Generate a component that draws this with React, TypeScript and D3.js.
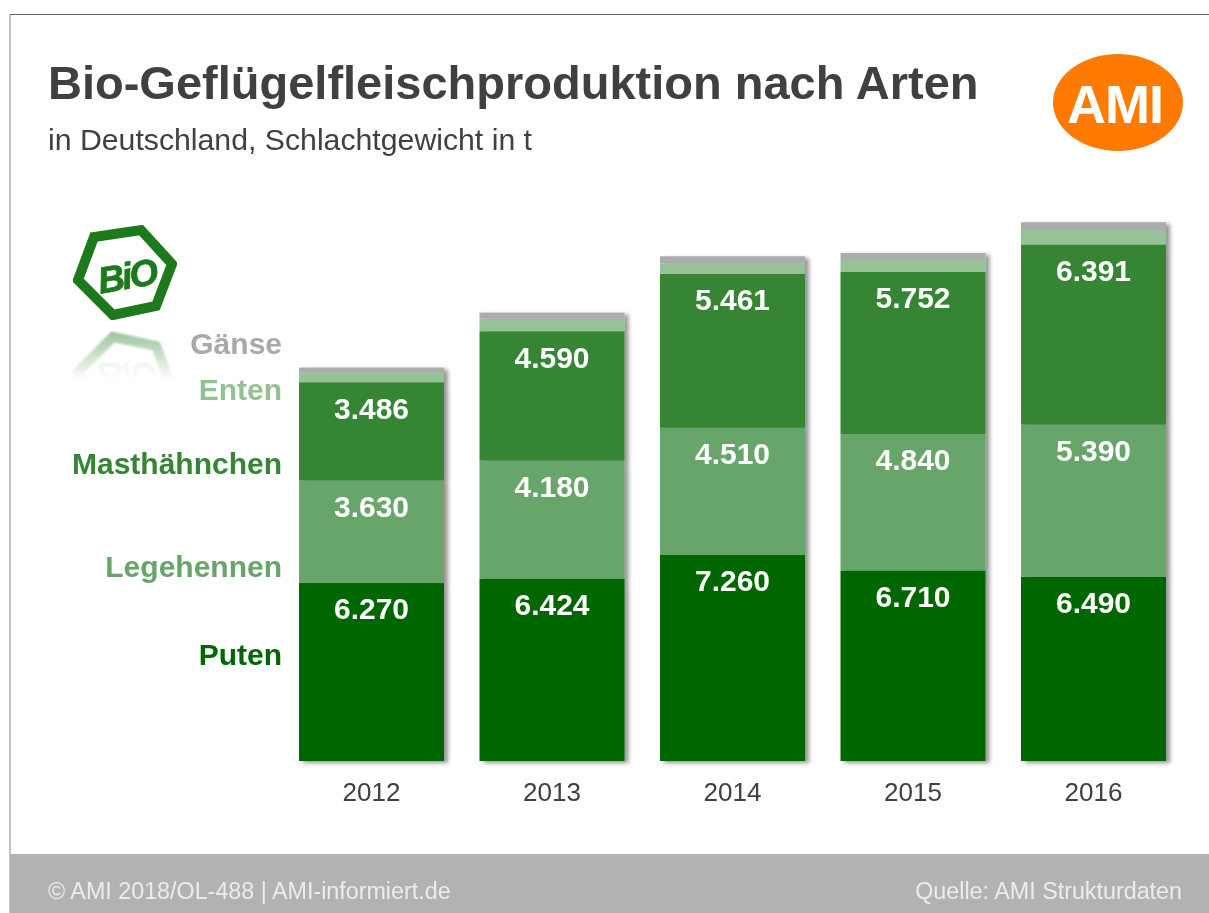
import React from "react";
import * as d3 from "d3";

const years = ["2012", "2013", "2014", "2015", "2016"];
const puten = [6270, 6424, 7260, 6710, 6490];
const legehennen = [3630, 4180, 4510, 4840, 5390];
const masthaehnchen = [3486, 4590, 5461, 5752, 6391];
const enten = [350, 450, 370, 420, 510];
const gaense = [170, 210, 250, 250, 280];

const seriesKeys = ["Puten", "Legehennen", "Masthähnchen", "Enten", "Gänse"];
const seriesValues = [puten, legehennen, masthaehnchen, enten, gaense];
const seriesColors = ["#006600", "#68a56a", "#368536", "#97c297", "#acacac"];
const labelColors = ["#006600", "#68a56a", "#358535", "#93c193", "#a9a9a9"];
const labelBaselines = [665, 577, 474, 400, 354];
const labeledSeries = 3;

const FONT = "'Liberation Sans', Arial, sans-serif";
const W = 1209;
const H = 913;
const BASE = 761;

const x = d3.scaleBand<string>().domain(years).range([299, 1166]).paddingInner(0.1967).paddingOuter(0);
const y = d3.scaleLinear().domain([0, 20000]).range([759.7, 759.7 - 564]);

const fmt = (v: number) => d3.format(",")(v).replace(",", ".");

const hexOuter: [number, number][] = [
  [141, 230], [172, 264], [156, 306], [113, 315], [78, 280], [94, 237],
];
const hexLine = d3.line().curve(d3.curveLinearClosed);
const hexPath = hexLine(hexOuter) as string;

export default function App() {
  return (
    <svg width={W} height={H} viewBox={`0 0 ${W} ${H}`} style={{ position: "absolute", left: 0, top: 0, background: "#fff" }} fontFamily={FONT}>
      <defs>
        <filter id="barShadow" x="-10%" y="-5%" width="125%" height="110%">
          <feGaussianBlur in="SourceAlpha" stdDeviation="2" />
          <feOffset dx="4" dy="2" />
          <feComponentTransfer><feFuncA type="linear" slope="0.42" /></feComponentTransfer>
          <feMerge><feMergeNode /><feMergeNode in="SourceGraphic" /></feMerge>
        </filter>
        <filter id="soft" x="-5%" y="-5%" width="110%" height="110%">
          <feGaussianBlur stdDeviation="0.45" />
        </filter>
        <filter id="softer" x="-10%" y="-10%" width="120%" height="120%">
          <feGaussianBlur stdDeviation="1.2" />
        </filter>
        <linearGradient id="fade" x1="0" y1="0" x2="0" y2="1">
          <stop offset="0" stopColor="#fff" stopOpacity="0.5" />
          <stop offset="1" stopColor="#fff" stopOpacity="0" />
        </linearGradient>
        <mask id="reflMask" maskUnits="userSpaceOnUse" x="60" y="326" width="130" height="60">
          <rect x="60" y="326" width="130" height="54" fill="url(#fade)" />
        </mask>
      </defs>

      {/* frame */}
      <line x1={10} x2={W} y1={14.5} y2={14.5} stroke="#666" strokeWidth={1.2} />
      <line x1={10} x2={10} y1={14} y2={H} stroke="#888" strokeWidth={1} />
      <rect x={10} y={854} width={W - 10} height={59} fill="#b2b2b2" />

      {/* heading */}
      <g filter="url(#soft)">
        <text x={48} y={99} fontSize={47} fontWeight={700} fill="#404040">Bio-Geflügelfleischproduktion nach Arten</text>
        <text x={48} y={150} fontSize={30.2} fill="#404040" textLength={484} lengthAdjust="spacingAndGlyphs">in Deutschland, Schlachtgewicht in t</text>
      </g>

      {/* AMI logo */}
      <ellipse cx={1118} cy={102.5} rx={65} ry={48.5} fill="#ff7b00" />
      <text x={1115} y={123} fontSize={54} fontWeight={700} fill="#fff" textAnchor="middle" letterSpacing={-1} filter="url(#soft)">AMI</text>

      {/* Bio logo */}
      <g filter="url(#soft)">
        <path d={hexPath} fill="none" stroke="#1e7a1e" strokeWidth={10} strokeLinejoin="miter" />
        <text x={127} y={289} fontSize={37} fontWeight={700} fontStyle="italic" fill="#1e7a1e" stroke="#1e7a1e" strokeWidth={0.8} textAnchor="middle" transform="rotate(-10 126 278)" letterSpacing={-2.5}>BiO</text>
      </g>
      <g mask="url(#reflMask)">
        <g transform="translate(0 652) scale(1 -1)" filter="url(#softer)">
          <path d={hexPath} fill="none" stroke="#1e7a1e" strokeWidth={10} />
          <text x={127} y={289} fontSize={37} fontWeight={700} fontStyle="italic" fill="#1e7a1e" textAnchor="middle" opacity={0.5} letterSpacing={-2.5}>BiO</text>
        </g>
      </g>

      {/* bars */}
      {years.map((yr, i) => {
        let acc = 0;
        const segs = seriesValues.map((vals, s) => {
          const y0 = acc === 0 ? BASE : y(acc);
          acc += vals[i];
          return { s, top: y(acc), bottom: y0, value: vals[i] };
        });
        return (
          <g key={yr}>
            <g filter="url(#barShadow)">
              {segs.map((d) => (
                <rect key={d.s} x={x(yr)} y={d.top} width={x.bandwidth()} height={d.bottom - d.top} fill={seriesColors[d.s]} />
              ))}
            </g>
            <g filter="url(#soft)">
              {segs.slice(0, labeledSeries).map((d) => (
                <text key={d.s} x={(x(yr) as number) + x.bandwidth() / 2} y={d.top + 36.4} fontSize={30} fontWeight={700} fill="#fff" textAnchor="middle">
                  {fmt(d.value)}
                </text>
              ))}
              <text x={(x(yr) as number) + x.bandwidth() / 2} y={801} fontSize={26} fill="#404040" textAnchor="middle">{yr}</text>
            </g>
          </g>
        );
      })}

      {/* series names */}
      <g filter="url(#soft)">
        {seriesKeys.map((k, s) => (
          <text key={k} x={282} y={labelBaselines[s]} fontSize={30} fontWeight={700} fill={labelColors[s]} textAnchor="end">{k}</text>
        ))}
        <text x={48} y={899} fontSize={23.3} fill="#ececec">© AMI 2018/OL-488 | AMI-informiert.de</text>
        <text x={1182} y={899} fontSize={23.3} fill="#ececec" textAnchor="end">Quelle: AMI Strukturdaten</text>
      </g>
    </svg>
  );
}
